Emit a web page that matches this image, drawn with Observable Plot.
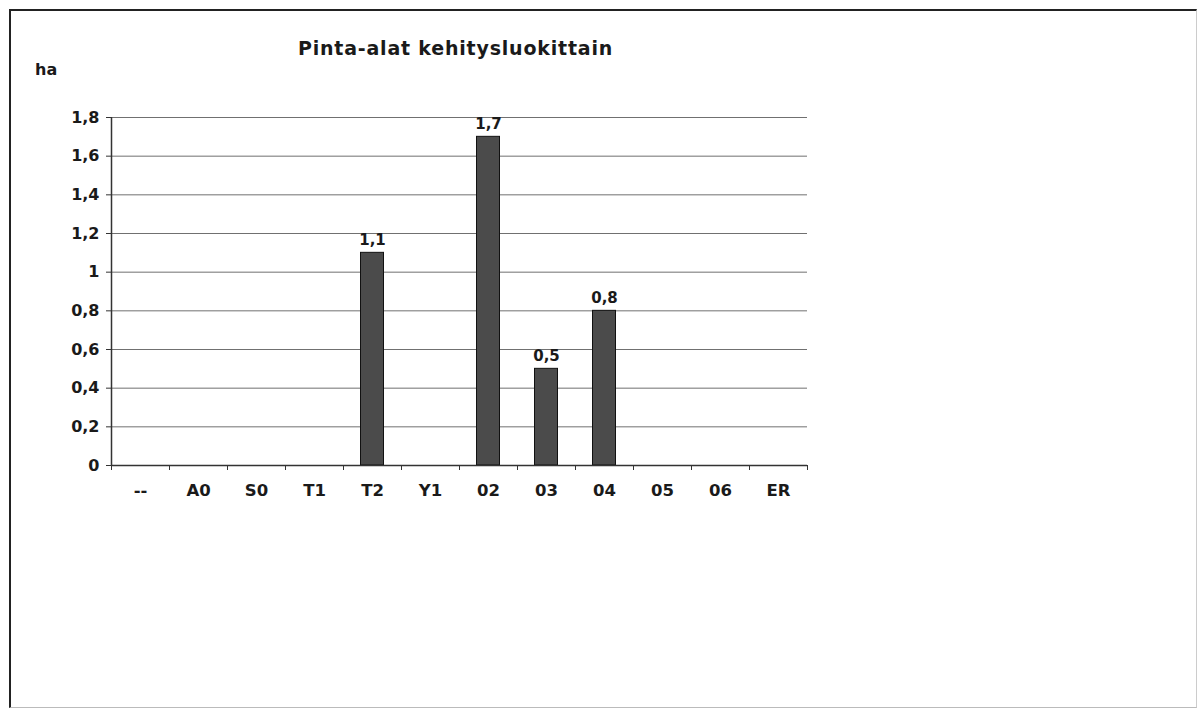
<!DOCTYPE html>
<html><head><meta charset="utf-8">
<script src="https://cdn.jsdelivr.net/npm/d3@7"></script>
<script src="https://cdn.jsdelivr.net/npm/@observablehq/plot@0.6"></script>
<style>
body{margin:0;background:#fff;}
#wrap{position:relative;width:1197px;height:708px;overflow:hidden;font-family:"DejaVu Sans",Verdana,sans-serif;color:#1a1a1a;}
#frame{position:absolute;left:9px;top:9px;width:1185px;height:696px;border-left:2px solid #222;border-top:2px solid #222;border-right:1px solid #ccc;border-bottom:1px solid #bbb;}
#title{position:absolute;left:0;width:911px;text-align:center;top:39px;line-height:1;font-weight:bold;font-size:19px;letter-spacing:0.8px;}
#unit{position:absolute;left:35px;top:62px;line-height:1;font-weight:bold;font-size:16px;}
#chart{position:absolute;left:0;top:0;}
</style></head><body>
<div id="wrap"><div id="frame"></div><div id="title">Pinta-alat kehitysluokittain</div><div id="unit">ha</div><div id="chart"></div></div>
<script>
const categories = ["--","A0","S0","T1","T2","Y1","02","03","04","05","06","ER"];
const values = [0,0,0,0,1.1,0,1.7,0.5,0.8,0,0,0];
const yTicks = [0,0.2,0.4,0.6,0.8,1,1.2,1.4,1.6,1.8];

const data = categories.map((c,i)=>({cat:c, value:values[i]}));
const nonzero = data.filter(d=>d.value>0);
const fmt = d => String(d).replace(".", ",");

const W=1197, H=708, mL=111, mR=390, mT=117, mB=243;
const step = (W-mL-mR)/categories.length;

const chart = Plot.plot({
  width: W, height: H,
  marginLeft: mL, marginRight: mR, marginTop: mT, marginBottom: mB,
  style: {fontFamily: '"DejaVu Sans", Verdana, sans-serif', background: "transparent", color:"#1a1a1a"},
  x: {domain: categories, padding: 0, axis: null},
  y: {domain: [0, 1.8], axis: null},
  marks: [
    Plot.ruleY(yTicks.filter(d=>d>0), {stroke:"#707070", strokeWidth:1}),
    Plot.barY(nonzero, {x:"cat", y:"value", fill:"#4b4b4b", stroke:"#111", strokeWidth:1, insetLeft:17.5, insetRight:17.5}),
    Plot.text(nonzero, {x:"cat", y:"value", text: d=>fmt(d.value), lineAnchor:"bottom", dy:-8, fontWeight:"bold", fontSize:15, fill:"#1a1a1a"}),
    Plot.ruleY([0], {stroke:"#333", strokeWidth:1.5}),
    Plot.ruleX([categories[0]], {dx:-step/2, stroke:"#333", strokeWidth:1.5}),
    Plot.axisY({ticks: yTicks, tickFormat: fmt, tickSize:5, tickPadding:7, fontWeight:"bold", fontSize:16, stroke:"#333", label:null}),
    Plot.axisX({tickSize:0, tickPadding:19, fontWeight:"bold", fontSize:16.5, label:null}),
    Plot.axisX({tickSize:5, dx:-step/2, text:null, label:null, stroke:"#333"}),
    Plot.axisX({ticks:[categories[categories.length-1]], tickSize:5, dx:step/2, text:null, label:null, stroke:"#333"})
  ]
});
document.getElementById("chart").appendChild(chart);
</script>
</body></html>
